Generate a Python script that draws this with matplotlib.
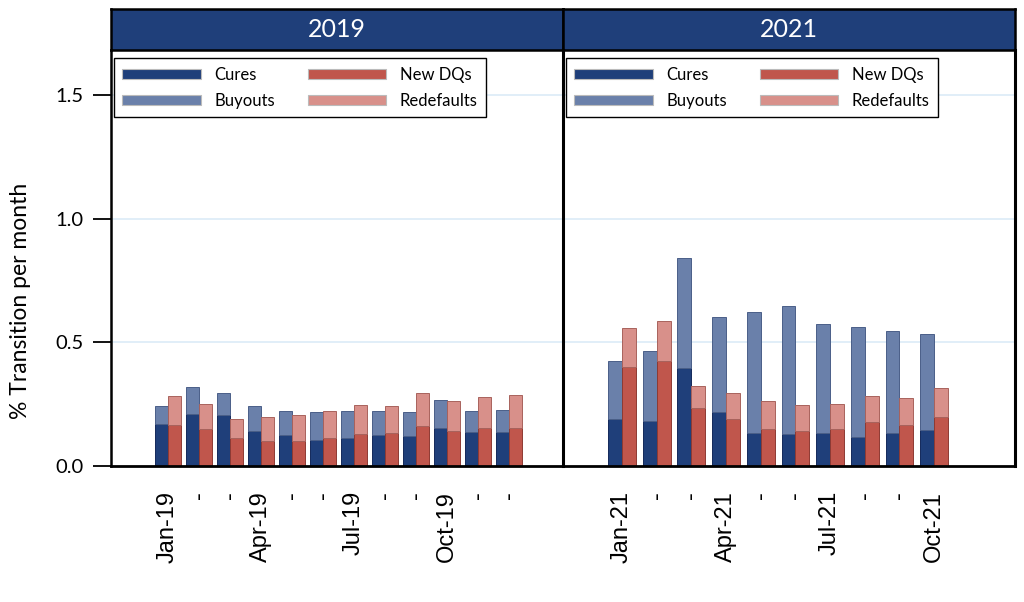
import matplotlib.pyplot as plt
import numpy as np
from matplotlib.patches import Patch

plt.rcParams['font.family'] = ['Lato', 'DejaVu Sans']

# 2019 values (% transition per month)
labels19 = ["Jan-19", "-", "-", "Apr-19", "-", "-", "Jul-19", "-", "-", "Oct-19", "-", "-"]
cures19 = [0.169, 0.210, 0.205, 0.143, 0.125, 0.104, 0.115, 0.127, 0.123, 0.152, 0.139, 0.137]
buyouts19 = [0.072, 0.111, 0.090, 0.101, 0.099, 0.113, 0.106, 0.094, 0.094, 0.114, 0.083, 0.088]
newdq19 = [0.164, 0.150, 0.112, 0.100, 0.102, 0.115, 0.129, 0.133, 0.160, 0.141, 0.155, 0.154]
redef19 = [0.118, 0.099, 0.079, 0.097, 0.105, 0.109, 0.118, 0.108, 0.135, 0.123, 0.123, 0.133]

# 2021 values
labels21 = ["Jan-21", "-", "-", "Apr-21", "-", "-", "Jul-21", "-", "-", "Oct-21"]
cures21 = [0.189, 0.182, 0.396, 0.218, 0.135, 0.131, 0.133, 0.117, 0.133, 0.146]
buyouts21 = [0.234, 0.284, 0.446, 0.386, 0.489, 0.516, 0.442, 0.444, 0.413, 0.386]
newdq21 = [0.400, 0.425, 0.235, 0.189, 0.150, 0.140, 0.150, 0.177, 0.166, 0.199]
redef21 = [0.157, 0.160, 0.088, 0.106, 0.114, 0.107, 0.101, 0.105, 0.109, 0.116]

c_cures = '#1f3f7a'
c_buy = '#6a80aa'
c_new = '#c0564c'
c_red = '#d8908a'
header_blue = '#1f3f7a'

fig = plt.figure(figsize=(10.24, 6.02), dpi=100)

left, bottom, pw, ph = 0.1084, 0.2259, 0.4414, 0.691
panels = [
    ("2019", labels19, cures19, buyouts19, newdq19, redef19, (-1.84, 12.74), 0.42),
    ("2021", labels21, cures21, buyouts21, newdq21, redef21, (-1.70, 11.33), 0.40),
]

for i, (year, labs, cu, bu, nd, rd, xl, w) in enumerate(panels):
    ax = fig.add_axes([left + i * pw, bottom, pw, ph])
    ax.patch.set_visible(False)
    ax.set_zorder(3 - i)
    x = np.arange(len(labs))
    for yv in [0.5, 1.0, 1.5]:
        ax.axhline(yv, color='#dcebf7', lw=1.2, zorder=0)
    ax.bar(x - w / 2, cu, w, color=c_cures, edgecolor='#14295a', lw=0.7, zorder=2)
    ax.bar(x - w / 2, bu, w, bottom=cu, color=c_buy, edgecolor='#4a5f88', lw=0.7, zorder=2)
    ax.bar(x + w / 2, nd, w, color=c_new, edgecolor='#8e3a33', lw=0.7, zorder=2)
    ax.bar(x + w / 2, rd, w, bottom=nd, color=c_red, edgecolor='#a8625c', lw=0.7, zorder=2)
    ax.set_xlim(*xl)
    ax.set_ylim(0, 1.682)
    ax.set_xticks(x)
    ax.set_xticklabels(labs, rotation=90, fontsize=17, family=['Liberation Sans', 'DejaVu Sans'])
    ax.tick_params(axis='x', length=0, pad=18)
    ax.spines['top'].set_visible(False)
    ax.spines['bottom'].set_linewidth(2)
    ax.spines['right'].set_linewidth(2.2)
    if i == 0:
        ax.spines['left'].set_linewidth(1.8)
        ax.set_yticks([0.0, 0.5, 1.0, 1.5])
        ax.set_yticklabels(["0.0", "0.5", "1.0", "1.5"], fontsize=14.5)
        ax.tick_params(axis='y', length=13, width=1.3, pad=7)
    else:
        ax.spines['left'].set_visible(False)
        ax.set_yticks([])

    handles = [Patch(facecolor=c_cures, edgecolor='#bbbbbb', lw=0.8, label='Cures'),
               Patch(facecolor=c_buy, edgecolor='#bbbbbb', lw=0.8, label='Buyouts'),
               Patch(facecolor=c_new, edgecolor='#bbbbbb', lw=0.8, label='New DQs'),
               Patch(facecolor=c_red, edgecolor='#bbbbbb', lw=0.8, label='Redefaults')]
    leg = ax.legend(handles=handles, ncol=2, loc='upper left', bbox_to_anchor=(0.007, 0.98),
                    borderaxespad=0, fontsize=12, handlelength=4.7, handleheight=0.6,
                    handletextpad=0.8, columnspacing=2.0, labelspacing=0.62,
                    borderpad=0.5, fancybox=False, framealpha=1)
    leg.get_frame().set_edgecolor('black')
    leg.get_frame().set_linewidth(1.0)

    hd = fig.add_axes([left + i * pw, 0.9169, pw, 0.0675])
    hd.set_facecolor(header_blue)
    hd.set_xticks([])
    hd.set_yticks([])
    for s in hd.spines.values():
        s.set_linewidth(1.8)
    hd.text(0.5, 0.5, year, color='white', fontsize=18, ha='center', va='center',
            transform=hd.transAxes)

fig.text(0.02, 0.5, "% Transition per month", rotation=90, fontsize=16.5,
         ha='center', va='center')

fig.savefig('out.png', dpi=100)
